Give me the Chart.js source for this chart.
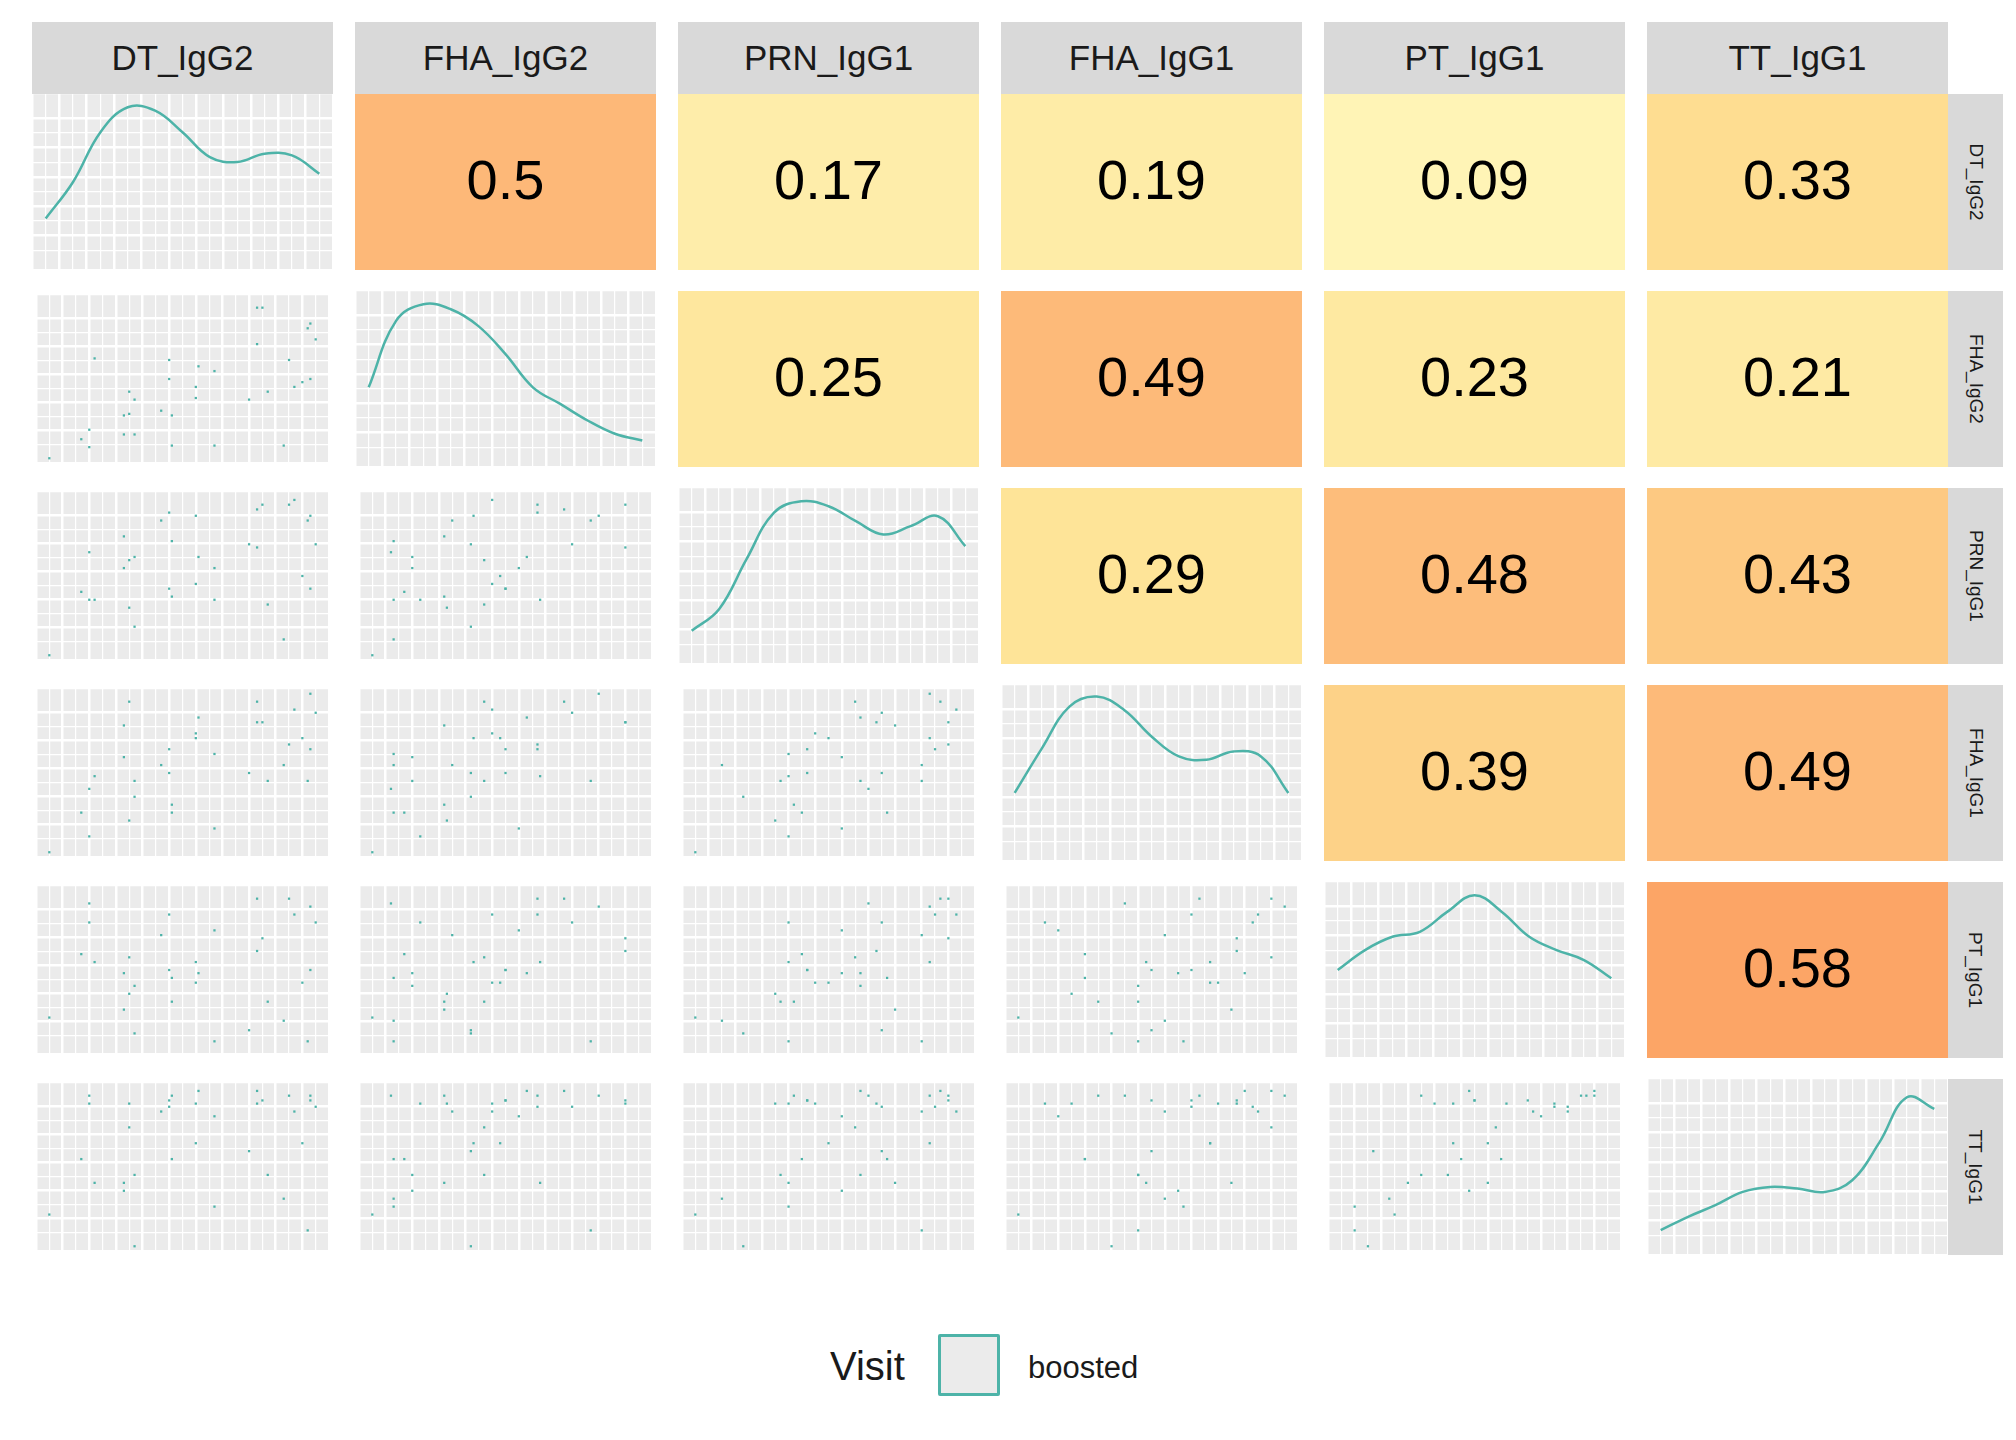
<!DOCTYPE html>
<html><head><meta charset="utf-8">
<script src="https://cdn.jsdelivr.net/npm/chart.js@4"></script>
<style>
body{margin:0;background:#fff;width:2016px;height:1440px;position:relative;font-family:"Liberation Sans",Arial,sans-serif;overflow:hidden}
.cell{position:absolute}
.strip{position:absolute;background:#D9D9D9;color:#1a1a1a;display:flex;align-items:center;justify-content:center}
.top{font-size:35px}
.side{font-size:19px}
.side span{transform:rotate(90deg);white-space:nowrap}
</style></head><body>
<script>
const vars = ['DT_IgG2','FHA_IgG2','PRN_IgG1','FHA_IgG1','PT_IgG1','TT_IgG1'];
// correlations, upper triangle (row i, col j)
const corr = {
  '0-1':0.5,'0-2':0.17,'0-3':0.19,'0-4':0.09,'0-5':0.33,
  '1-2':0.25,'1-3':0.49,'1-4':0.23,'1-5':0.21,
  '2-3':0.29,'2-4':0.48,'2-5':0.43,
  '3-4':0.39,'3-5':0.49,
  '4-5':0.58
};
// density curves, sampled at x = 0, 0.1, ..., 1 (scaled)
const densX = [0,0.1,0.2,0.3,0.4,0.5,0.6,0.7,0.8,0.9,1];
const dens = [
  [0.28,0.5,0.8,0.95,0.93,0.8,0.65,0.62,0.67,0.66,0.55],
  [0.45,0.85,0.95,0.92,0.82,0.65,0.45,0.35,0.25,0.17,0.13],
  [0.17,0.3,0.6,0.88,0.95,0.92,0.83,0.75,0.8,0.86,0.68],
  [0.38,0.65,0.9,0.96,0.88,0.72,0.6,0.58,0.63,0.6,0.38],
  [0.5,0.62,0.7,0.73,0.85,0.95,0.85,0.7,0.62,0.56,0.45],
  [0.12,0.2,0.27,0.35,0.38,0.37,0.35,0.42,0.65,0.92,0.85]
];
// observed values per variable (scaled 0..1), same subjects across variables
const DT_IgG2  = [0.0,0.12,0.15,0.15,0.28,0.28,0.3,0.3,0.32,0.32,0.42,0.45,0.46,0.46,0.45,0.55,0.55,0.56,0.62,0.62,0.75,0.78,0.78,0.8,0.82,0.88,0.9,0.92,0.95,0.97,0.98,1.0,0.98,0.17];
const FHA_IgG2 = [0.0,0.12,0.18,0.07,0.27,0.15,0.42,0.28,0.15,0.37,0.3,0.5,0.27,0.08,0.62,0.38,0.45,0.58,0.55,0.08,0.37,0.72,0.95,0.95,0.42,0.08,0.62,0.45,0.48,0.82,0.5,0.75,0.85,0.63];
const PRN_IgG1 = [0.0,0.4,0.35,0.65,0.75,0.55,0.6,0.3,0.62,0.18,0.85,0.42,0.37,0.72,0.9,0.88,0.45,0.62,0.55,0.35,0.7,0.92,0.68,0.95,0.32,0.1,0.95,0.98,0.5,0.85,0.42,0.7,0.88,0.35];
const FHA_IgG1 = [0.0,0.25,0.1,0.4,0.8,0.6,0.95,0.2,0.45,0.35,0.55,0.5,0.3,0.25,0.65,0.72,0.75,0.85,0.15,0.62,0.5,0.95,0.82,0.82,0.45,0.55,0.68,0.9,0.72,0.45,0.65,0.88,1.0,0.48];
const PT_IgG1  = [0.2,0.6,0.8,0.92,0.25,0.48,0.58,0.35,0.4,0.1,0.72,0.5,0.3,0.45,0.85,0.55,0.42,0.48,0.75,0.05,0.12,0.95,0.62,0.7,0.3,0.18,0.95,0.85,0.42,0.05,0.5,0.8,0.9,0.55];
const TT_IgG1  = [0.2,0.55,0.9,0.95,0.4,0.35,0.75,0.9,0.45,0.0,0.85,0.92,0.95,0.55,0.88,0.65,0.9,0.98,0.82,0.25,0.6,0.98,0.9,0.92,0.45,0.3,0.95,0.85,0.65,0.1,0.92,0.88,0.95,0.4];
const vals = [DT_IgG2,FHA_IgG2,PRN_IgG1,FHA_IgG1,PT_IgG1,TT_IgG1];

const teal = '#4DB3A8';
const colX0 = 32, colStep = 323, cellW = 301;
const rowY0 = 94, rowStep = 197, cellH = 176;

function corrColor(r){
  const stops = [[0.05,[255,247,188]],[0.2,[254,235,166]],[0.3,[254,227,150]],[0.4,[253,208,134]],[0.5,[253,184,120]],[0.6,[252,160,98]]];
  if (r <= stops[0][0]) return 'rgb('+stops[0][1]+')';
  for (let k=1;k<stops.length;k++){
    if (r <= stops[k][0]){
      const a=stops[k-1], b=stops[k], t=(r-a[0])/(b[0]-a[0]);
      return 'rgb('+a[1].map((v,i)=>Math.round(v+(b[1][i]-v)*t)).join(',')+')';
    }
  }
  return 'rgb('+stops[stops.length-1][1]+')';
}

const panelBg = {
  id:'panelBg',
  beforeDraw(chart, args, opts){
    const {ctx, chartArea:a} = chart;
    ctx.save(); ctx.fillStyle = opts.color; ctx.fillRect(a.left,a.top,a.width,a.height); ctx.restore();
  },
  afterDraw(chart, args, opts){
    if (opts.text === undefined) return;
    const {ctx, chartArea:a} = chart;
    ctx.save(); ctx.fillStyle='#000'; ctx.font='56px "Liberation Sans", Arial';
    ctx.textAlign='center'; ctx.textBaseline='middle';
    ctx.fillText(opts.text,(a.left+a.right)/2,(a.top+a.bottom)/2+2); ctx.restore();
  }
};

function gridScale(min,max,step,show){
  return {type:'linear',min,max,
    ticks:{display:false,stepSize:step},
    border:{display:false},
    grid:{display:show,color:'#fff',drawTicks:false,
      lineWidth:c=>(c.index%2===0?2.5:1.2)}};
}

function mk(tag, cls, x, y, w, h, html){
  const d=document.createElement(tag); d.className=cls;
  Object.assign(d.style,{left:x+'px',top:y+'px',width:w+'px',height:h+'px'});
  if(html) d.innerHTML=html; document.body.appendChild(d); return d;
}

for (let j=0;j<6;j++) mk('div','strip top',colX0+j*colStep,22,cellW,72,vars[j]);
for (let i=0;i<6;i++) mk('div','strip side',colX0+6*colStep-22,rowY0+i*rowStep,55,cellH,'<span>'+vars[i]+'</span>');

for (let i=0;i<6;i++){
  for (let j=0;j<6;j++){
    const d = mk('div','cell',colX0+j*colStep,rowY0+i*rowStep,cellW,cellH);
    const cv = document.createElement('canvas'); d.appendChild(cv);
    let cfg;
    const base = {responsive:true,maintainAspectRatio:false,animation:false,
      layout:{padding:0},plugins:{legend:{display:false},tooltip:{enabled:false}}};
    if (i<j){
      const r = corr[i+'-'+j];
      cfg = {type:'scatter',data:{datasets:[]},options:{...base,
        scales:{x:gridScale(0,1,0.1,false),y:gridScale(0,1,0.1,false)},
        plugins:{...base.plugins,panelBg:{color:corrColor(r),text:String(r)}}}};
    } else if (i===j){
      cfg = {type:'line',data:{datasets:[{data:densX.map((x,k)=>({x,y:dens[i][k]})),
        borderColor:teal,borderWidth:2.5,pointRadius:0,tension:0.4,fill:false}]},
        options:{...base,scales:{x:gridScale(-0.05,1.05,0.05,true),y:gridScale(-0.03,1.03,0.0883,true)},
        plugins:{...base.plugins,panelBg:{color:'#EBEBEB'}}}};
    } else {
      cfg = {type:'scatter',data:{datasets:[{data:vals[j].map((x,k)=>({x,y:vals[i][k]})),
        backgroundColor:teal,borderWidth:0,pointStyle:'rect',pointRadius:1.6}]},
        options:{...base,scales:{x:gridScale(-0.05,1.05,0.05,true),y:gridScale(-0.03,1.03,0.0883,true)},
        plugins:{...base.plugins,panelBg:{color:'#EBEBEB'}}}};
    }
    new Chart(cv,{...cfg,plugins:[panelBg]});
  }
}

// legend
mk('div','cell',830,1344,100,50,'<span style="font-size:40px;color:#1a1a1a">Visit</span>');
mk('div','cell',938,1334,62,62,'').style.cssText += ';background:#EBEBEB;border:3px solid '+teal+';box-sizing:border-box;border-radius:2px';
mk('div','cell',1028,1350,140,40,'<span style="font-size:31px;color:#1a1a1a">boosted</span>');
</script>
</body></html>
